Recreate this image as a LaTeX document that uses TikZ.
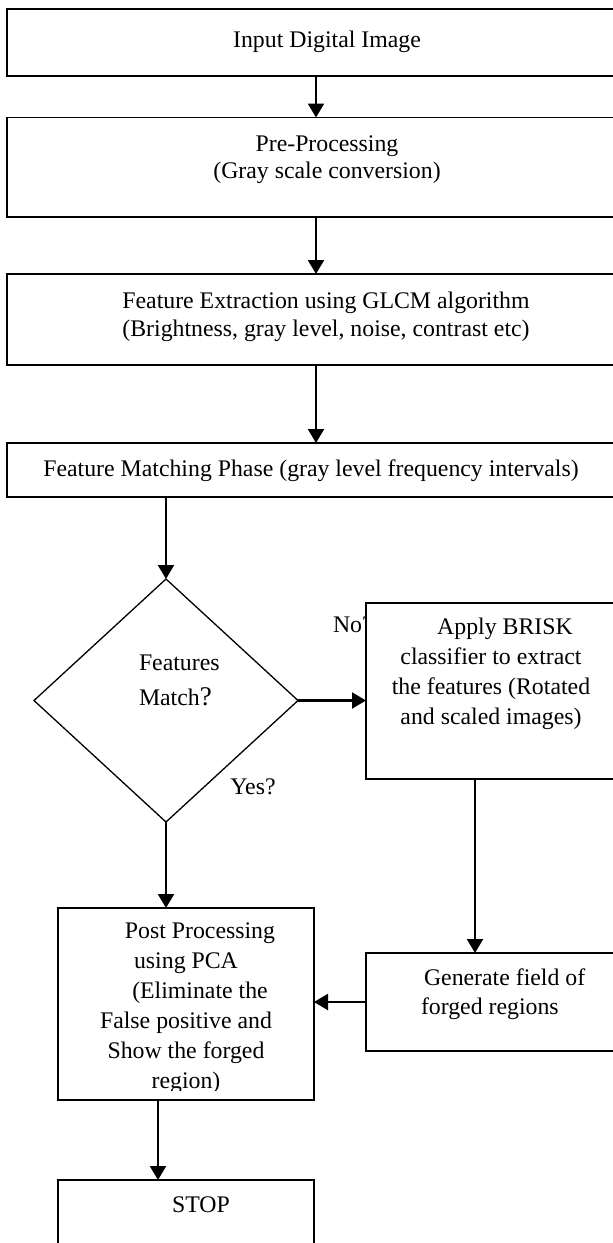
\documentclass[tikz,border=0pt]{standalone}
\usepackage{fontspec}
\setmainfont{Liberation Serif}
\usetikzlibrary{arrows.meta,shapes.geometric}
\begin{document}
\begin{tikzpicture}[x=1pt,y=-1pt,
  box/.style={draw, line width=1.5pt, fill=white, inner sep=0pt, outer sep=0pt},
  txt/.style={font=\fontsize{23.8}{28}\selectfont, inner sep=0pt, outer sep=0pt},
  arr/.style={line width=2.2pt, -{Triangle[width=16pt,length=14pt]}},
]
\useasboundingbox (0,0) rectangle (613,1243);
\fill[white] (0,0) rectangle (613,1243);
\clip (0,0) rectangle (613,1243);

% boxes of the main column
\node[box, minimum width=638, minimum height=67] (b1) at (326,42.5) {};
\node[box, minimum width=638, minimum height=99.5] (b2) at (326,167.25) {};
\node[box, minimum width=638, minimum height=91] (b3) at (326,319.5) {};
\node[box, minimum width=638, minimum height=54] (b4) at (326,470) {};

\node[txt] (t1) at (327,42) {Input Digital Image};
\node[txt, align=center, font=\fontsize{23.8}{27}\selectfont] (t2) at (327,160) {Pre-Processing\\(Gray scale conversion)};
\node[txt, align=center] (t3) at (326,316.5) {Feature Extraction using GLCM algorithm\\(Brightness, gray level, noise, contrast etc)};
\node[txt] (t4) at (311,471) {Feature Matching Phase (gray level frequency intervals)};

% decision
\node[diamond, draw, line width=1.3pt, minimum width=264, minimum height=243, inner sep=0pt, outer sep=0pt] (d) at (166,700.5) {};
\node[txt, align=left, anchor=west, font=\fontsize{23.8}{35}\selectfont] (t5) at (139,680) {Features\\Match{\fontsize{27}{35}\selectfont ?}};

% "No?" partly hidden by the BRISK box
\node[txt, anchor=west] (t6) at (333,625) {No?};

\node[box, minimum width=250, minimum height=176] (brisk) at (491,691) {};
\node[txt, align=center, font=\fontsize{23.8}{30}\selectfont] (t7) at (491,673.5) {\hspace*{28pt}Apply BRISK\\classifier to extract\\the features (Rotated\\and scaled images)};

\node[txt] (t8) at (253,787) {Yes?};

\node[box, minimum width=256, minimum height=192] (post) at (186,1004) {};
\node[box, minimum width=250, minimum height=98] (gen) at (491,1002) {};
\node[txt, align=left, anchor=west, font=\fontsize{23.8}{29}\selectfont] (t9) at (421,994) {\hspace*{3pt}Generate field of\\forged regions};

\begin{scope}
\clip (58,908) rectangle (314,1090);
\node[txt, align=center, font=\fontsize{23.8}{30}\selectfont] (t10) at (186,1008) {\hspace*{28pt}Post Processing\\using PCA\\\hspace*{28pt}(Eliminate the\\False positive and\\Show the forged\\region)};
\end{scope}

\node[box, minimum width=256, minimum height=120] (stop) at (186,1240) {};
\node[txt] (t11) at (201,1205) {STOP};

% connectors
\draw[arr] ([xshift=-10pt]b1.south) -- ([xshift=-10pt]b2.north);
\draw[arr] ([xshift=-10pt]b2.south) -- ([xshift=-10pt]b3.north);
\draw[arr] ([xshift=-10pt]b3.south) -- ([xshift=-10pt]b4.north);
\draw[arr] (d.north |- b4.south) -- (d.north);
\draw[arr] (d.east) -- (d.east -| brisk.west);
\draw[arr] (d.south) -- (d.south |- post.north);
\draw[arr] ([xshift=-16pt]brisk.south) -- ([xshift=-16pt]gen.north);
\draw[arr] (gen.west) -- (gen.west -| post.east);
\draw[arr] ([xshift=-28pt]post.south) -- ([xshift=-28pt]stop.north);
\end{tikzpicture}
\end{document}
